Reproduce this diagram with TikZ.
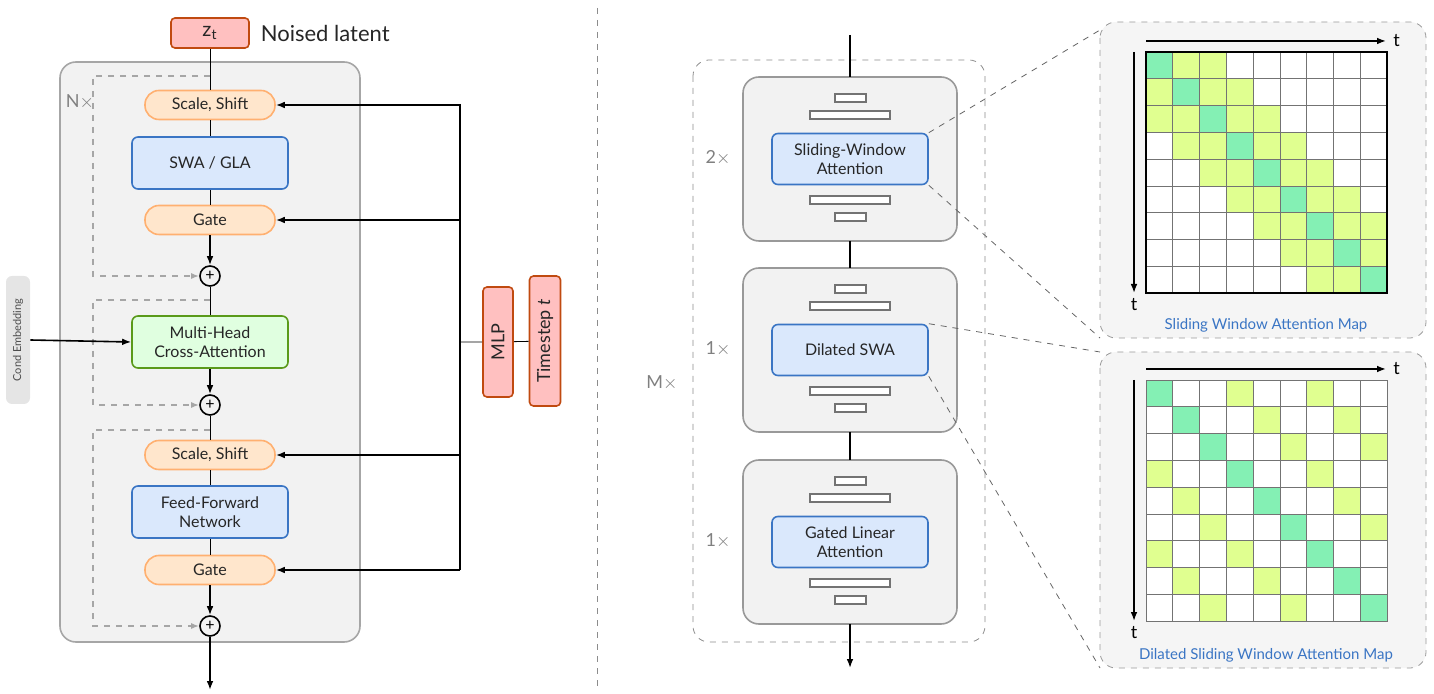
\documentclass[tikz,border=0pt]{standalone}
\usepackage{fontspec}
\setmainfont{Lato}
\usetikzlibrary{positioning,arrows.meta}
\definecolor{pinkf}{HTML}{FFC0C0}
\definecolor{pinkd}{HTML}{C04A10}
\definecolor{orf}{HTML}{FFE6CC}
\definecolor{ord}{HTML}{FFB070}
\definecolor{bluef}{HTML}{DAE8FC}
\definecolor{blued}{HTML}{3A75C4}
\definecolor{greenf}{HTML}{E0FFE0}
\definecolor{greend}{HTML}{5A9A1A}
\definecolor{diagc}{HTML}{84F0B4}
\definecolor{bandc}{HTML}{E0FF90}
\definecolor{panelf}{HTML}{F2F2F2}
\begin{document}
\begin{tikzpicture}[x=0.5pt,y=-0.5pt,
  txt/.style={font=\fontsize{8}{9.5}\selectfont, align=center, text=black!85},
  pill/.style={txt, draw=ord, fill=orf, thick, rounded corners=7pt, minimum width=65pt, minimum height=14.5pt, inner sep=0pt},
  blk/.style={txt, draw=blued, fill=bluef, thick, rounded corners=3pt, minimum width=78pt, minimum height=26pt, inner sep=0pt},
  xblk/.style={blk, draw=greend, fill=greenf},
  red/.style={txt, draw=pinkd, fill=pinkf, thick, rounded corners=2pt, inner sep=0pt},
  plus/.style={circle, draw, thick, minimum size=10pt, inner sep=0pt, font=\fontsize{8}{8}\selectfont},
  skip/.style={dashed, gray!70, thick, -{Latex[length=4pt]}},
  arr/.style={thick, -{Latex[length=4.5pt]}},
  bar/.style={draw=black!55, thick, fill=white},
  mapc/.style={draw=black!55, thin},
]
\useasboundingbox (0,0) rectangle (1434,694);

% left: transformer block
\draw[black!35, thick, fill=panelf, rounded corners=8pt] (60,62) rectangle (360,642);
\node[text=black!50, font=\fontsize{9}{9}\selectfont] at (80,102) {N$\times$};
\node[red, minimum width=39pt, minimum height=15pt, font=\fontsize{10}{10}\selectfont] (zt) at (210,33) {z\textsubscript{t}};
\node[right=2pt of zt, font=\fontsize{11}{11}\selectfont, text=black!85] {Noised latent};
\node[pill] (ss1) at (210,105) {Scale, Shift};
\node[blk] (attn) at (210,163) {SWA / GLA};
\node[pill] (gate1) at (210,220) {Gate};
\node[plus] (p1) at (210,276) {+};
\node[xblk] (cross) at (210,342) {Multi-Head\\Cross-Attention};
\node[plus] (p2) at (210,405) {+};
\node[pill] (ss2) at (210,455) {Scale, Shift};
\node[blk] (ffn) at (210,512) {Feed-Forward\\Network};
\node[pill] (gate2) at (210,570) {Gate};
\node[plus] (p3) at (210,626) {+};
\coordinate (out) at (210,690);

\draw (zt) -- (ss1) -- (attn) -- (gate1);
\draw[arr] (gate1) -- (p1);
\draw (p1) -- (cross);
\draw[arr] (cross) -- (p2);
\draw (p2) -- (ss2) -- (ffn) -- (gate2);
\draw[arr] (gate2) -- (p3);
\draw[arr] (p3) -- (out);

% residual paths
\draw[skip] (210,76) -- (93,76) -- (93,276) -- (p1);
\draw[skip] (210,300) -- (93,300) -- (93,405) -- (p2);
\draw[skip] (210,430) -- (93,430) -- (93,626) -- (p3);

% conditioning
\node[fill=black!10, rounded corners=3pt, minimum width=64pt, minimum height=12pt, inner sep=0pt,
  rotate=90, font=\fontsize{5.5}{6}\selectfont, text=black!70] (cond) at (18,340) {Cond Embedding};
\draw[arr] (cond.south) -- (cross.west);
\node[red, rotate=90, minimum width=55pt, minimum height=15pt, font=\fontsize{9}{9}\selectfont] (mlp) at (498,342) {MLP};
\node[red, rotate=90, minimum width=65pt, minimum height=15.5pt, font=\fontsize{9}{9}\selectfont] (ts) at (545,341) {Timestep \textit{t}};
\coordinate (tr) at (460,342);
\draw (ts) -- (mlp) -- (tr);
\draw[thick] (460,104) -- (460,570);
\foreach \n in {ss1,gate1,ss2,gate2}
  \draw[arr] (460,0 |- \n.east) -- (\n.east);

% divider
\draw[dashed, black!45] (597,8) -- (597,690);

% middle: hybrid stack
\draw[dashed, black!45, rounded corners=8pt] (693,60) rectangle (985,642);
\node[text=black!50, font=\fontsize{9}{9}\selectfont] at (662,383) {M$\times$};
\foreach \k/\y/\lab/\nm in {0/77/{Sliding-Window\\Attention}/swa, 1/268/{Dilated SWA}/dswa, 2/460/{Gated Linear\\Attention}/gla} {
  \draw[black!40, thick, fill=panelf, rounded corners=8pt] (743,\y) rectangle (957,\y+164);
  \draw[bar] (835,\y+17) rectangle (866,\y+25);
  \draw[bar] (810,\y+34) rectangle (890,\y+42);
  \node[blk, minimum height=25.5pt] (\nm) at (850,\y+82) {\lab};
  \draw[bar] (810,\y+119) rectangle (890,\y+127);
  \draw[bar] (835,\y+136) rectangle (866,\y+144);
}
\node[text=black!50, font=\fontsize{9}{9}\selectfont] at (718,158) {2$\times$};
\node[text=black!50, font=\fontsize{9}{9}\selectfont] at (718,349) {1$\times$};
\node[text=black!50, font=\fontsize{9}{9}\selectfont] at (718,541) {1$\times$};
\draw[thick] (850,35) -- (850,77);
\draw[thick] (850,241) -- (850,268);
\draw[thick] (850,432) -- (850,460);
\draw[arr] (850,624) -- (850,668);

% right: attention maps
\foreach \py/\gy/\cap/\mode in {22/52/{Sliding Window Attention Map}/0, 352/380/{Dilated Sliding Window Attention Map}/1} {
  \draw[dashed, black!40, fill=black!4, rounded corners=8pt] (1100,\py) rectangle (1426,\py+316);
  \foreach \i in {0,...,8}
    \foreach \j in {0,...,8} {
      \pgfmathtruncatemacro{\d}{abs(\i-\j)}
      \pgfmathtruncatemacro{\m}{mod(\d,3)}
      \ifnum\d=0 \def\cc{diagc}\else
        \ifnum\mode=0
          \ifnum\d<3 \def\cc{bandc}\else\def\cc{white}\fi
        \else
          \ifnum\m=0 \def\cc{bandc}\else\def\cc{white}\fi
        \fi\fi
      \draw[mapc, fill=\cc] (1146+26.8*\j,\gy+26.8*\i) rectangle ++(26.8,26.8);
    }
  \draw[arr] (1146,\gy-11) -- (1386,\gy-11) node[right=0pt, font=\fontsize{9}{9}\selectfont] {t};
  \draw[arr] (1134,\gy) -- (1134,\gy+241) node[below=-1pt, font=\fontsize{9}{9}\selectfont] {t};
  \node[text=blued, font=\fontsize{7.5}{8}\selectfont] at (1266,\py+303) {\cap};
}
\draw[thick] (1146,52) rectangle (1387,293);
\draw[dashed, black!60] (swa.north east) -- (1100,30);
\draw[dashed, black!60] (swa.south east) -- (1100,338);
\draw[dashed, black!60] (dswa.north east) -- (1100,352);
\draw[dashed, black!60] (dswa.south east) -- (1100,668);
\end{tikzpicture}
\end{document}
